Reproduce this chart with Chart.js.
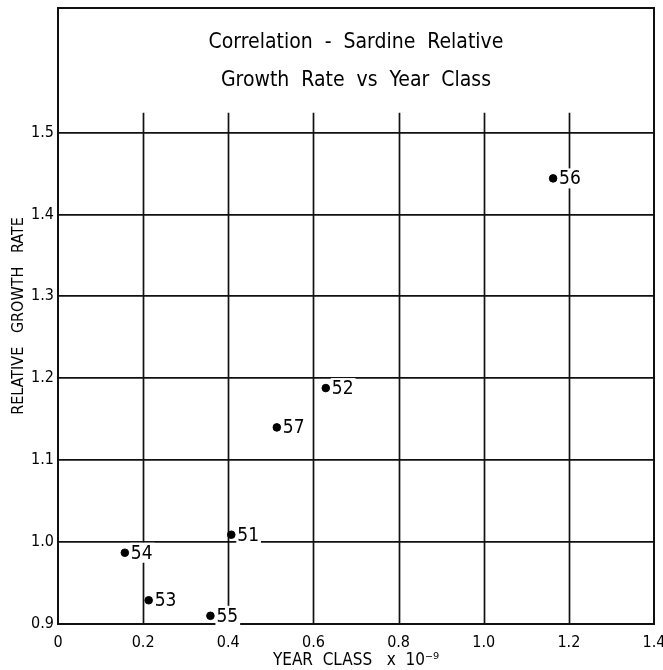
<!DOCTYPE html>
<html lang="en">
<head>
    <meta charset="UTF-8">
    <title>Correlation - Sardine Relative Growth Rate vs Year Class</title>
    <script src="https://cdn.jsdelivr.net/npm/chart.js"></script>
    <style>
        html, body { margin: 0; padding: 0; background: #fff; }
        .wrap { width: 663px; height: 670px; }
    </style>
</head>
<body>
    <div class="wrap">
        <canvas id="chart"></canvas>
    </div>

    <script>
        // data
        const yearLabels = ['56', '52', '57', '51', '54', '53', '55'];
        const yearClass = [1.163, 0.629, 0.514, 0.407, 0.157, 0.213, 0.358];
        const growthRate = [1.444, 1.188, 1.140, 1.009, 0.987, 0.929, 0.910];

        const xTicks = [0, 0.2, 0.4, 0.6, 0.8, 1.0, 1.2, 1.4];
        const xTickText = ['0', '0.2', '0.4', '0.6', '0.8', '1.0', '1.2', '1.4'];
        const yTicks = [0.9, 1.0, 1.1, 1.2, 1.3, 1.4, 1.5];
        const yTickText = ['0.9', '1.0', '1.1', '1.2', '1.3', '1.4', '1.5'];

        const titleLines = ['Correlation  -  Sardine  Relative', 'Growth  Rate  vs  Year  Class'];

        const FONT = "'DejaVu Sans Condensed', 'Liberation Sans Narrow', Roboto, sans-serif";
        Chart.defaults.font.family = FONT;
        Chart.defaults.color = '#000';

        const INK = '#111';
        const vLineTop = 1.524;   // vertical rules stop just above 1.5
        const boxTop = 1.652;     // frame encloses the title

        const framePlugin = {
            id: 'frame',
            beforeDatasetsDraw(chart) {
                const { ctx, chartArea: a, scales: { x, y } } = chart;
                ctx.save();
                ctx.strokeStyle = INK;
                ctx.lineWidth = 1.7;
                const yb = y.getPixelForValue(0.9);
                const yt = y.getPixelForValue(vLineTop);
                xTicks.forEach(v => {
                    if (v <= 0 || v >= 1.4) return;
                    const px = Math.round(x.getPixelForValue(v)) + 0.5;
                    ctx.beginPath();
                    ctx.moveTo(px, yb);
                    ctx.lineTo(px, yt);
                    ctx.stroke();
                });
                ctx.lineWidth = 2;
                ctx.strokeRect(a.left, a.top, a.right - a.left, a.bottom - a.top);

                // title inside the frame
                ctx.fillStyle = '#000';
                ctx.font = '21px ' + FONT;
                ctx.textAlign = 'center';
                ctx.textBaseline = 'middle';
                const cx = (a.left + a.right) / 2;
                ctx.fillText(titleLines[0], cx, a.top + 35);
                ctx.fillText(titleLines[1], cx, a.top + 73);
                ctx.restore();
            },
            afterDatasetsDraw(chart) {
                const { ctx } = chart;
                const meta = chart.getDatasetMeta(0);
                ctx.save();
                ctx.font = '19px ' + FONT;
                ctx.textAlign = 'left';
                ctx.textBaseline = 'middle';
                meta.data.forEach((pt, i) => {
                    const w = ctx.measureText(yearLabels[i]).width;
                    ctx.fillStyle = '#fff';
                    ctx.fillRect(pt.x + 5, pt.y - 10, w + 3, 20);
                    ctx.fillStyle = '#000';
                    ctx.fillText(yearLabels[i], pt.x + 6, pt.y + 1);
                });
                ctx.restore();
            }
        };

        const ctx = document.getElementById('chart').getContext('2d');
        const chart = new Chart(ctx, {
            type: 'scatter',
            data: {
                datasets: [{
                    label: 'Year class',
                    data: yearClass.map((v, i) => ({ x: v, y: growthRate[i] })),
                    backgroundColor: '#000',
                    borderColor: '#000',
                    pointRadius: 3.8,
                    pointHoverRadius: 3.8
                }]
            },
            options: {
                responsive: true,
                maintainAspectRatio: false,
                animation: false,
                layout: { padding: { left: 0, right: 9, top: 8, bottom: 0 } },
                plugins: {
                    legend: { display: false },
                    tooltip: { enabled: false }
                },
                scales: {
                    x: {
                        type: 'linear',
                        min: 0,
                        max: 1.4,
                        afterBuildTicks: s => { s.ticks = xTicks.map(v => ({ value: v })); },
                        afterFit: s => { s.height = 46; s.paddingLeft = 0; s.paddingRight = 0; },
                        grid: { display: false },
                        border: { display: false },
                        ticks: {
                            padding: 1,
                            maxRotation: 0,
                            font: { size: 16 },
                            callback: (v, i) => xTickText[i]
                        },
                        title: {
                            display: true,
                            text: 'YEAR  CLASS   x  10\u207B\u2079',
                            font: { size: 17 },
                            padding: { top: 0, bottom: -1 }
                        }
                    },
                    y: {
                        type: 'linear',
                        min: 0.9,
                        max: boxTop,
                        afterBuildTicks: s => { s.ticks = yTicks.map(v => ({ value: v })); },
                        afterFit: s => { s.width = 58; s.paddingTop = 0; s.paddingBottom = 0; },
                        grid: { color: INK, lineWidth: 1.7, drawTicks: false },
                        border: { display: false },
                        ticks: {
                            padding: 4,
                            font: { size: 16 },
                            callback: (v, i) => yTickText[i]
                        },
                        title: {
                            display: true,
                            text: 'RELATIVE   GROWTH   RATE',
                            font: { size: 16 },
                            padding: { top: 9, bottom: 0 }
                        }
                    }
                }
            },
            plugins: [framePlugin]
        });
    </script>
</body>
</html>
